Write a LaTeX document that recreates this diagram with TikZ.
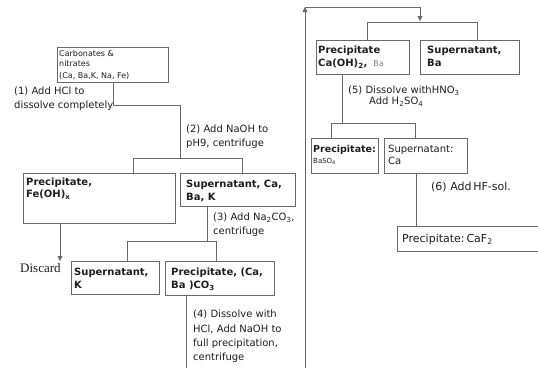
\documentclass[tikz,border=0pt]{standalone}
\usepackage{fontspec}
\setmainfont{DejaVu Sans}
\newfontfamily\discardfont{Liberation Serif}
\usetikzlibrary{arrows.meta}
\definecolor{ln}{HTML}{6A6A6A}
\definecolor{tx}{HTML}{1E1E1E}
\tikzset{
  box/.style={draw=ln, line width=0.9pt, anchor=north west, inner sep=0pt},
  txt/.style={anchor=north west, inner sep=0pt, align=left, text=tx, font=\fontsize{10}{13.5}\selectfont},
  bt/.style={txt, font=\bfseries\fontsize{10}{12.5}\selectfont},
  conn/.style={draw=ln, line width=0.8pt},
  arr/.style={conn, -{Triangle[length=5pt,width=5pt]}},
}
\begin{document}
\begin{tikzpicture}[x=1pt,y=-1pt]
\clip (0,0) rectangle (538,367);
% boxes
\node[box, minimum width=111pt, minimum height=35pt] (top) at (57,47) {};
\node[box, minimum width=152pt, minimum height=50pt] (fe) at (23,173) {};
\node[box, minimum width=115pt, minimum height=33pt] (sup1) at (180,173) {};
\node[box, minimum width=88pt, minimum height=33pt] (supK) at (71,261) {};
\node[box, minimum width=109pt, minimum height=34pt] (co3) at (165,261) {};
\node[box, minimum width=93pt, minimum height=34pt] (caoh) at (316,40) {};
\node[box, minimum width=99pt, minimum height=34pt] (supBa) at (420,40) {};
\node[box, minimum width=67pt, minimum height=35pt] (baso4) at (311,138) {};
\node[box, minimum width=83pt, minimum height=35pt] (supCa) at (384,138) {};
\node[box, minimum width=150pt, minimum height=25pt] (caf2) at (397,226) {};
% texts
\node[txt, font=\fontsize{8}{9.5}\selectfont] (ttop) at (59,50.5) {Carbonates \&\\ nitrates\\[3pt](Ca, Ba,K, Na, Fe)};
\node[txt] (s1) at (14,87) {(1) Add HCl to\\dissolve completely};
\node[txt] (s2) at (186,125) {(2) Add NaOH to\\pH9, centrifuge};
\node[bt, font=\bfseries\fontsize{10}{11.5}\selectfont] (tfe) at (26,178) {Precipitate,\\Fe(OH){\fontsize{7}{8}\selectfont\raisebox{-2pt}{x}}};
\node[bt] (tsup1) at (186,180) {Supernatant, Ca,\\Ba, K};
\node[txt, font=\fontsize{10}{14}\selectfont] (s3) at (213,213) {(3) Add Na\textsubscript{2}CO\textsubscript{3},\\centrifuge};
\node[anchor=west, inner sep=0pt, text=tx, font=\discardfont\fontsize{13}{14}\selectfont] (disc) at (20,268) {Discard};
\node[bt] (tsupK) at (74,268) {Supernatant,\\K};
\node[bt] (tco3) at (171,268) {Precipitate, (Ca,\\Ba )CO\textsubscript{3}};
\node[txt, font=\fontsize{10}{14.3}\selectfont] (s4) at (193,310) {(4) Dissolve with\\HCl, Add NaOH to\\full precipitation,\\centrifuge};
\node[bt] (tcaoh) at (318,46) {Precipitate\\Ca(OH)\textsubscript{2}, {\mdseries\color{gray}\fontsize{8}{9}\selectfont\ Ba}};
\node[bt] (tsupBa) at (427,46) {Supernatant,\\Ba};
\node[txt, font=\fontsize{10}{11}\selectfont] (s5) at (348,86) {(5) Dissolve withHNO\textsubscript{3}\\\hspace*{21pt}Add H\textsubscript{2}SO\textsubscript{4}};
\node[txt, font=\fontsize{10}{11}\selectfont] (tbaso4) at (313,145) {{\bfseries\fontsize{9.5}{11}\selectfont Precipitate:}\\{\fontsize{7}{8}\selectfont BaSO\textsubscript{4}}};
\node[txt, font=\fontsize{10}{11.5}\selectfont] (tsupCa) at (388,145) {Supernatant:\\Ca};
\node[txt, font=\fontsize{11}{13}\selectfont] (s6) at (431,181.5) {(6) Add\,HF-sol.};
\node[txt, font=\fontsize{11}{13}\selectfont] (tcaf2) at (402,233.5) {Precipitate:\,CaF\textsubscript{2}};
% junction coordinates
\coordinate (k1) at (180,105);
\coordinate (j1) at (180,158);
\coordinate (b1l) at (133,158);
\coordinate (b1r) at (242,158);
\coordinate (k2) at (207,206);
\coordinate (j2) at (207,241);
\coordinate (b2l) at (127,241);
\coordinate (b2r) at (216,241);
\coordinate (dis) at (60,261);
\coordinate (k4) at (186,295);
\coordinate (e4) at (186,370);
\coordinate (r0) at (305,370);
\coordinate (up) at (305,7);
\coordinate (dn) at (420,21);
\coordinate (b5l) at (367,22);
\coordinate (b5r) at (477,22);
\coordinate (k5) at (342,74);
\coordinate (j5) at (342,123);
\coordinate (b6l) at (331,123);
\coordinate (b6r) at (415,123);
\coordinate (k6) at (416,173);
% connectors
\draw[conn] (top.south) |- (k1) -- (j1);
\draw[conn] (fe.north -| b1l) -- (b1l) -- (b1r) -- (sup1.north -| b1r);
\draw[arr] (fe.south -| dis) -- (dis);
\draw[conn] (k2) -- (j2);
\draw[conn] (supK.north -| b2l) -- (b2l) -- (b2r) -- (co3.north -| b2r);
\draw[conn] (k4) -- (e4);
\draw[arr] (r0) -- (up);
\draw[arr] (up) -| (dn);
\draw[conn] (caoh.north -| b5l) -- (b5l) -- (b5r) -- (supBa.north -| b5r);
\draw[conn] (k5) -- (j5);
\draw[conn] (baso4.north -| b6l) -- (b6l) -- (b6r) -- (supCa.north -| b6r);
\draw[conn] (k6) -- (caf2.north -| k6);
\end{tikzpicture}
\end{document}
